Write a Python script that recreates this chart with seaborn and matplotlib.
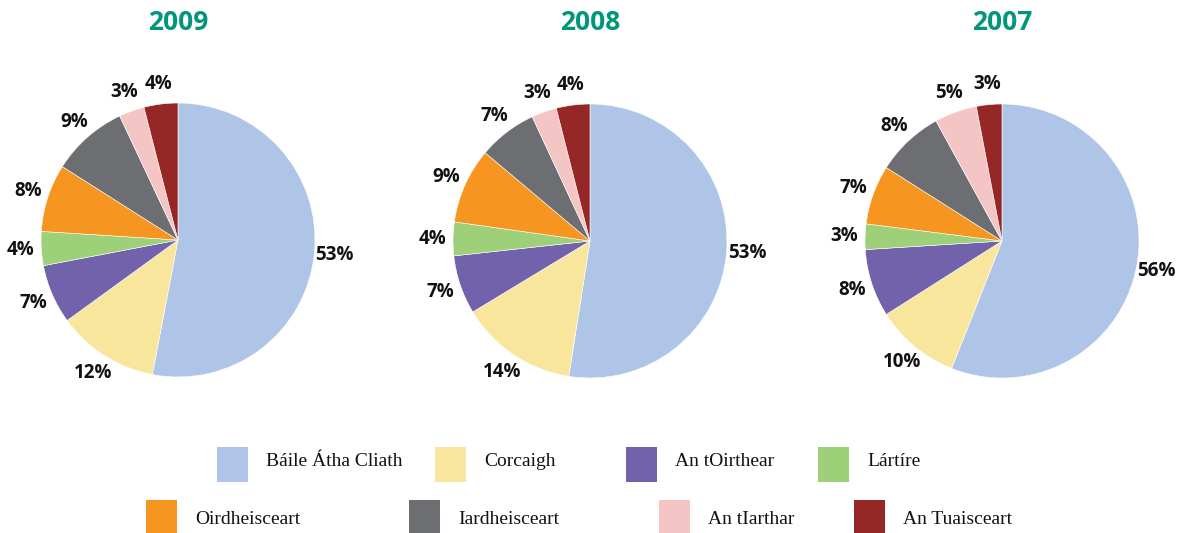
"""Three regional share pies (2009 / 2008 / 2007) with a shared legend."""
import matplotlib
matplotlib.use("Agg")
import matplotlib.pyplot as plt
from matplotlib.patches import Rectangle
import seaborn as sns

years = ["2009", "2008", "2007"]
regions = [
    "Báile Átha Cliath", "Corcaigh", "An tOirthear", "Lártíre",
    "Oirdheisceart", "Iardheisceart", "An tIarthar", "An Tuaisceart",
]
share_2009 = [53, 12, 7, 4, 8, 9, 3, 4]
share_2008 = [53, 14, 7, 4, 9, 7, 3, 4]
share_2007 = [56, 10, 8, 3, 7, 8, 5, 3]
shares = [share_2009, share_2008, share_2007]

region_colors = ["#AFC5E7", "#F7E69B", "#7262AB", "#9ECF79",
                 "#F6951F", "#6D6E71", "#F3C6C5", "#952826"]
TITLE_COLOR = "#00967A"

sns.set_theme(style="white")
plt.rcParams["font.family"] = ["Open Sans", "DejaVu Sans"]

W, H = 1179, 533
fig = plt.figure(figsize=(W / 100, H / 100), dpi=100)
fig.patch.set_facecolor("white")

pie_centers = [(178, 240), (590, 241), (1002, 241)]
R = 137

for year, vals, (cx, cy) in zip(years, shares, pie_centers):
    ax = fig.add_axes([(cx - R) / W, (H - cy - R) / H, 2 * R / W, 2 * R / H])
    wedges, texts = ax.pie(
        vals, colors=sns.color_palette(region_colors), startangle=90,
        counterclock=False, labels=[f"{v}%" for v in vals], labeldistance=1.15,
        wedgeprops={"linewidth": 0.4, "edgecolor": "white"},
        textprops={"fontsize": 13.5, "fontweight": "bold", "color": "#111111"},
    )
    for t in texts:
        t.set_ha("center")
        t.set_va("center")
    ax.set_xlim(-1, 1)
    ax.set_ylim(-1, 1)
    ax.axis("off")
    fig.text(cx / W, 1 - 22 / H, year, ha="center", va="center",
             fontsize=19, fontweight="bold", color=TITLE_COLOR)

# legend laid out by hand, two rows of four
legend_slots = [(217, 447), (435, 447), (626, 447), (818, 447),
                (146, 500), (409, 500), (659, 500), (854, 500)]
for i, (name, color, (px, py)) in enumerate(zip(regions, region_colors, legend_slots)):
    fig.add_artist(Rectangle((px / W, 1 - (py + 35) / H), 31 / W, 35 / H,
                             transform=fig.transFigure, facecolor=color,
                             edgecolor="none"))
    text_dy = 15 if i < 4 else 19
    fig.text((px + 49) / W, 1 - (py + text_dy) / H, name, ha="left", va="center",
             fontsize=14, family="Liberation Serif", color="#111111")

fig.savefig("out.png", dpi=100)
